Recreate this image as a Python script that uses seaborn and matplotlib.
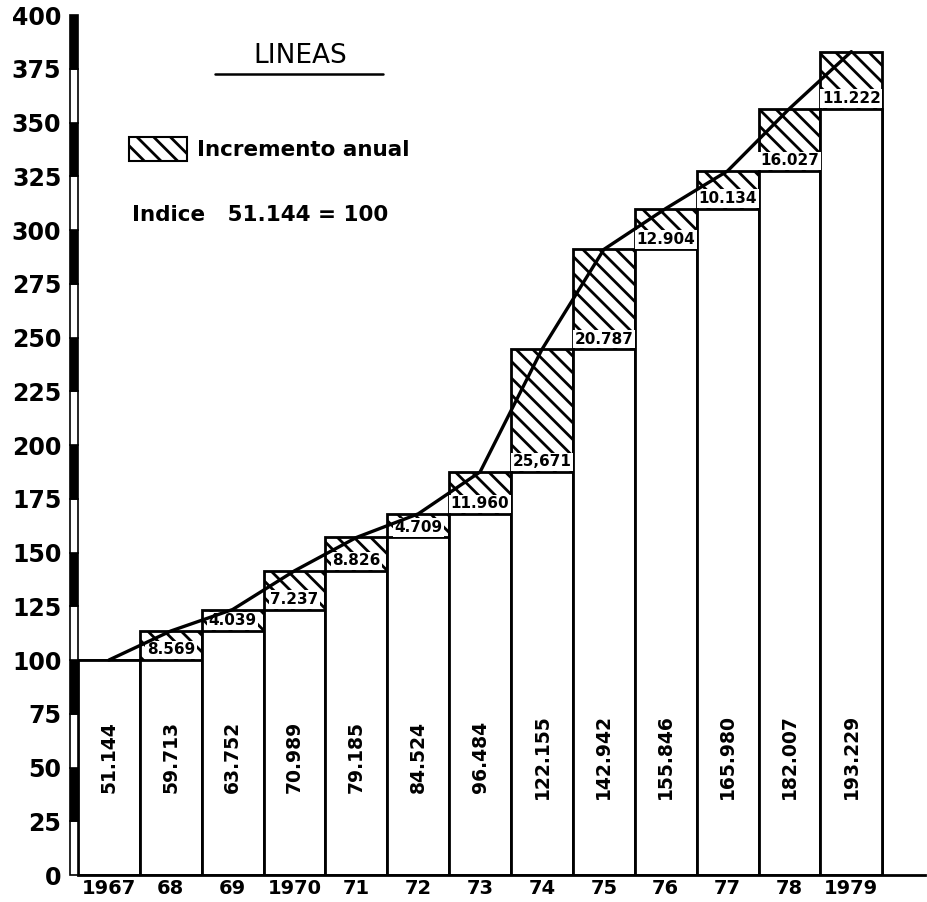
import numpy as np
import matplotlib
matplotlib.use("Agg")
import matplotlib.pyplot as plt
import matplotlib.transforms as mtransforms
from matplotlib.patches import Rectangle
import seaborn as sns

# Datos
anios = ["1967", "68", "69", "1970", "71", "72", "73", "74", "75", "76", "77", "78", "1979"]
lineas = ["51.144", "59.713", "63.752", "70.989", "79.185", "84.524", "96.484",
          "122.155", "142.942", "155.846", "165.980", "182.007", "193.229"]
incrementos = ["", "8.569", "4.039", "7.237", "8.826", "4.709", "11.960",
               "25,671", "20.787", "12.904", "10.134", "16.027", "11.222"]
indice = [100, 113.5, 123.5, 141.5, 157, 168, 187.5, 244.5, 291, 310, 327.5, 356.5, 383]
base = [100] + indice[:-1]

sns.set_style("white")
plt.rcParams["font.family"] = ["DejaVu Sans"]
plt.rcParams["text.color"] = "black"
plt.rcParams["xtick.color"] = "black"
plt.rcParams["ytick.color"] = "black"
plt.rcParams["hatch.linewidth"] = 2.0
plt.rcParams["hatch.color"] = "black"

fig = plt.figure(figsize=(9.27, 9.02), dpi=100)
ax = fig.add_axes([0.0841, 0.0299, 0.9137, 0.9534])

# Barra completa rayada (incremento) y encima la parte blanca (año anterior)
sns.barplot(x=anios, y=indice, color="white", edgecolor="black", linewidth=2,
            hatch="\\\\", width=1, saturation=1, errorbar=None, ax=ax)
sns.barplot(x=anios, y=base, color="white", edgecolor="black", linewidth=2,
            width=1, saturation=1, errorbar=None, ax=ax)

# Curva
sns.lineplot(x=np.arange(len(anios)), y=indice, color="black", linewidth=2.4,
             ax=ax, zorder=5)

# Etiquetas de incremento y valores
for i, (b, inc, val) in enumerate(zip(base, incrementos, lineas)):
    if inc:
        ax.text(i, b + 1.2, inc, ha="center", va="bottom", fontsize=11,
                fontweight="bold", zorder=4,
                bbox=dict(facecolor="white", edgecolor="none", pad=1.2))
    ax.text(i, 55, val, ha="center", va="center", rotation=90, fontsize=13.5,
            fontweight="bold", zorder=4)

ax.set_xlim(-0.5, 13.19)
ax.set_ylim(0, 400)
ax.set_yticks(range(0, 401, 25))
ax.set_yticklabels([str(v) for v in range(0, 401, 25)], fontsize=17, fontweight="bold")
ax.set_xticks(range(len(anios)))
ax.set_xticklabels(anios, fontsize=14, fontweight="bold")
ax.tick_params(axis="y", length=0, pad=12)
ax.tick_params(axis="x", length=0, pad=3)
ax.set_xlabel("")
ax.set_ylabel("")

for s in ["top", "right", "left"]:
    ax.spines[s].set_visible(False)
ax.spines["bottom"].set_linewidth(2)
ax.spines["bottom"].set_color("black")

# Eje izquierdo grueso con tramos alternos negro/blanco
trans = mtransforms.blended_transform_factory(ax.transAxes, ax.transData)
w = 0.0094
for k, y0 in enumerate(range(0, 400, 25)):
    fc = "white" if k % 2 == 0 else "black"
    ax.add_patch(Rectangle((-w, y0), w, 25, transform=trans, facecolor=fc,
                           edgecolor="black", linewidth=1.2, clip_on=False, zorder=6))

# Título y leyenda
fig.text(300 / 927, 1 - 56 / 902, "LINEAS", ha="center", va="center", fontsize=19)
fig.add_artist(plt.Line2D([215 / 927, 383 / 927], [1 - 74 / 902, 1 - 74 / 902],
                          color="black", linewidth=1.8))
fig.add_artist(Rectangle((129 / 927, 1 - 161 / 902), 58 / 927, 24 / 902,
                         facecolor="white", edgecolor="black", linewidth=1.5,
                         hatch="\\\\", transform=fig.transFigure))
fig.text(197 / 927, 1 - 150 / 902, "Incremento anual", ha="left", va="center",
         fontsize=15.5, fontweight="bold")
fig.text(132 / 927, 1 - 215 / 902, "Indice   51.144 = 100", ha="left", va="center",
         fontsize=15.5, fontweight="bold")

plt.savefig("out.png", dpi=100)
plt.close()
